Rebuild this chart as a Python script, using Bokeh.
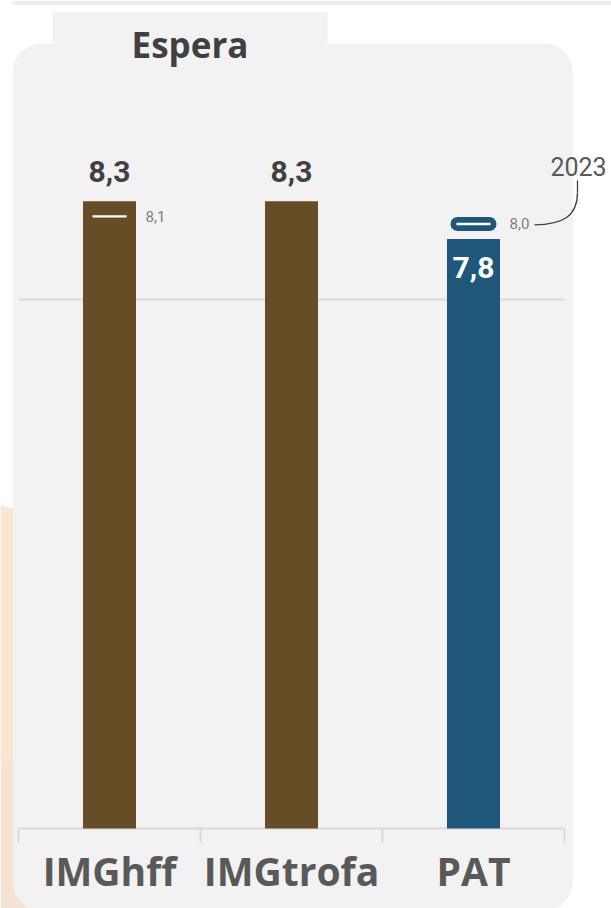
from bokeh.plotting import figure
from bokeh.models import Range1d, BoxAnnotation, ColumnDataSource
from bokeh.core.properties import value
from bokeh.embed import file_html
from bokeh.resources import INLINE

# ---- data ----
categories = ["IMGhff", "IMGtrofa", "PAT"]
values = [8.3, 8.3, 7.8]
value_labels = ["8,3", "8,3", "7,8"]
bar_colors = ["#654e26", "#654e26", "#1f577a"]
prev_cats = ["IMGhff", "PAT"]
prev_values = [8.1, 8.0]
prev_labels = ["8,1", "8,0"]
prev_year = "2023"
grid_values = [7]
title = "Espera"

W, H = 611, 908
PX_PER_CAT = 182.0
X0_PX = 18.0
PX_PER_UNIT = 75.57
Y0_PX = 828.0


def X(px):
    return (px - X0_PX) / PX_PER_CAT


def Y(py):
    return (Y0_PX - py) / PX_PER_UNIT


p = figure(width=W, height=H, output_backend="svg", toolbar_location=None,
           x_range=Range1d(X(0), X(W)), y_range=Range1d(Y(H), Y(0)),
           min_border=0, min_border_left=0, min_border_right=0,
           min_border_top=0, min_border_bottom=0)
p.axis.visible = False
p.grid.visible = False
p.outline_line_color = None
p.background_fill_color = "white"
p.border_fill_color = "white"

# ---- decorations ----
p.quad(left=X(12), right=X(W), top=Y(0), bottom=Y(4.5), fill_color="#eeeeee",
       line_color=None, level="underlay")
p.patch([X(0), X(30), X(30), X(0)], [Y(757), Y(757), Y(H), Y(H)],
        fill_color="#f5e4d3", line_color=None, level="underlay")
p.patch([X(0), X(30), X(30), X(0)], [Y(505), Y(512), Y(757), Y(761)],
        fill_color="#fde6cf", line_color=None, level="underlay")
panel = BoxAnnotation(left=X(12.5), right=X(572), top=Y(43), bottom=Y(910),
                      fill_color="#f2f2f2", fill_alpha=1, line_color=None,
                      border_radius=28, level="underlay")
p.add_layout(panel)
tab = BoxAnnotation(left=X(52), right=X(327), top=Y(12), bottom=Y(60),
                    fill_color="#f2f2f2", fill_alpha=1, line_color=None,
                    level="underlay")
p.add_layout(tab)

p.text(x=[X(189.5)], y=[Y(44)], text=[title], text_font=value("Open Sans"),
       text_font_style="bold", text_font_size="35px", text_color="#404040",
       text_align="center", text_baseline="alphabetic")

# ---- gridline ----
n = len(categories)
p.segment(x0=[0] * len(grid_values), x1=[n] * len(grid_values),
          y0=grid_values, y1=grid_values, line_color="#d9d9d9", line_width=2)

# ---- axis line & ticks ----
p.segment(x0=[0], x1=[n], y0=[0], y1=[0], line_color="#d9d9d9", line_width=2)
tick_x = list(range(n + 1))
p.segment(x0=tick_x, x1=tick_x, y0=[0] * (n + 1), y1=[Y(842)] * (n + 1),
          line_color="#d9d9d9", line_width=2)

# ---- bars ----
centers = [i + 0.5 for i in range(n)]
src = ColumnDataSource(dict(x=centers, top=values, color=bar_colors,
                            label=value_labels, cat=categories))
p.vbar(x="x", top="top", bottom=0, width=53 / PX_PER_CAT, fill_color="color",
       line_color=None, source=src)

out_idx = [i for i in range(n) if bar_colors[i] != "#1f577a"]
in_idx = [i for i in range(n) if bar_colors[i] == "#1f577a"]
p.text(x=[centers[i] for i in out_idx], y=[values[i] for i in out_idx],
       text=[value_labels[i] for i in out_idx], text_font=value("Roboto"),
       text_font_style="bold", text_font_size="30px", text_color="#404040",
       text_align="center", text_baseline="alphabetic", y_offset=-30)
p.text(x=[centers[i] for i in in_idx], y=[values[i] for i in in_idx],
       text=[value_labels[i] for i in in_idx], text_font=value("Roboto"),
       text_font_style="bold", text_font_size="30px", text_color="white",
       text_align="center", text_baseline="alphabetic", y_offset=28)

p.text(x=centers, y=[Y(870)] * n, text=categories, text_font=value("Open Sans"),
       text_font_style="bold", text_font_size="39px", text_color="#595959",
       text_align="center", text_baseline="alphabetic")

# ---- previous-year markers ----
px_ = [centers[categories.index(c)] for c in prev_cats]
for xc, yv, c in zip(px_, prev_values, prev_cats):
    if bar_colors[categories.index(c)] == "#1f577a":
        p.segment(x0=[xc - 16 / PX_PER_CAT], x1=[xc + 16 / PX_PER_CAT], y0=[yv], y1=[yv],
                  line_color="#1f577a", line_width=14, line_cap="round")
        p.segment(x0=[xc - 17 / PX_PER_CAT], x1=[xc + 17 / PX_PER_CAT], y0=[yv], y1=[yv],
                  line_color="white", line_width=2.5)
    else:
        p.segment(x0=[xc - 17 / PX_PER_CAT], x1=[xc + 17 / PX_PER_CAT], y0=[yv], y1=[yv],
                  line_color="white", line_width=2.2)
p.text(x=px_, y=prev_values, text=prev_labels, text_font=value("Roboto"),
       text_font_size="15px", text_color="#7f7f7f", text_align="left",
       text_baseline="middle", x_offset=36)

lx = px_[-1]
ly = prev_values[-1]
p.bezier(x0=[lx + 61 / PX_PER_CAT], y0=[ly - 1 / PX_PER_UNIT],
         x1=[X(577)], y1=[Y(192)],
         cx0=[X(562)], cy0=[Y(224)], cx1=[X(577)], cy1=[Y(216)],
         line_color="#404040", line_width=1.3)
p.segment(x0=[X(577)], x1=[X(577)], y0=[Y(192)], y1=[Y(180)],
          line_color="#404040", line_width=1.3)
p.text(x=[X(578)], y=[Y(166)], text=[prev_year], text_font=value("Roboto"),
       text_font_size="25px", text_color="#595959", text_align="center",
       text_baseline="alphabetic")

open("out.html", "w").write(file_html(p, INLINE))
